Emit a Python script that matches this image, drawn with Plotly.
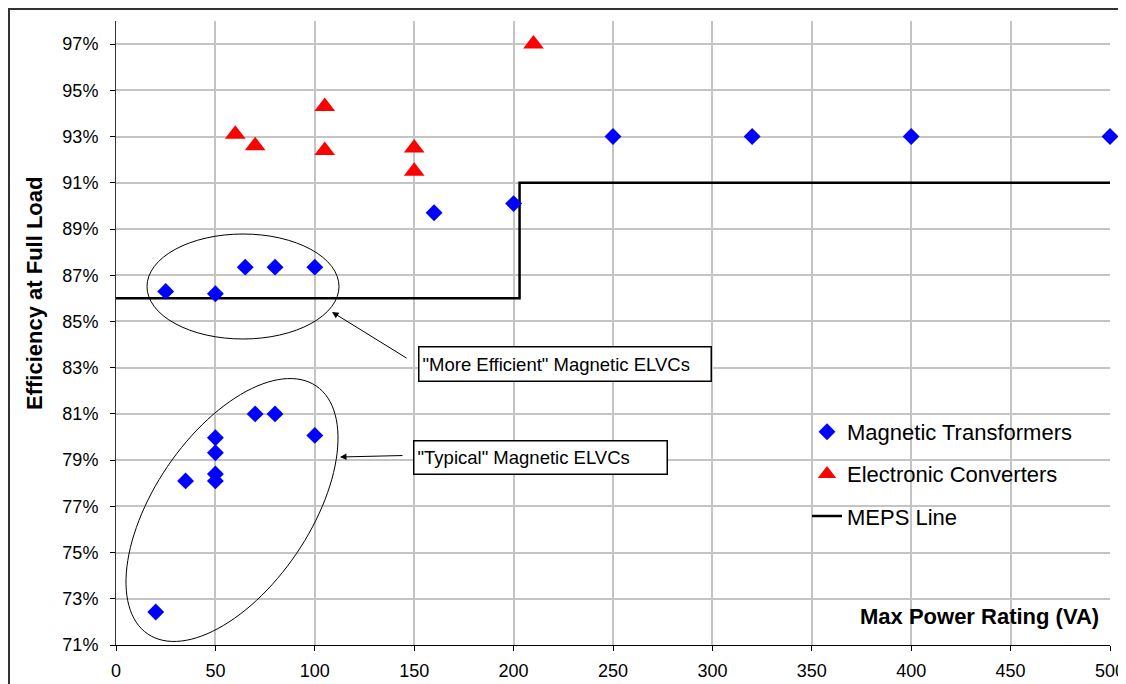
import numpy as np
import plotly.graph_objects as go

# ---------------- data ----------------
mag_x = [25, 50, 65, 80, 100, 160, 200, 250, 320, 400, 500,
         20, 35, 50, 50, 50, 50, 70, 80, 100]
mag_y = [0.863, 0.862, 0.8735, 0.8735, 0.8735, 0.897, 0.901, 0.930, 0.930, 0.930, 0.930,
         0.7243, 0.781, 0.7997, 0.7932, 0.784, 0.781, 0.810, 0.810, 0.8007]

elec_x = [60, 70, 105, 105, 150, 150, 210]
elec_y = [0.931, 0.926, 0.943, 0.924, 0.925, 0.915, 0.970]

meps_x = [0, 203, 203, 500]
meps_y = [0.86, 0.86, 0.91, 0.91]

y_ticks = [0.71, 0.73, 0.75, 0.77, 0.79, 0.81, 0.83, 0.85, 0.87, 0.89, 0.91, 0.93, 0.95, 0.97]
x_ticks = [0, 50, 100, 150, 200, 250, 300, 350, 400, 450, 500]

# ---------------- layout geometry ----------------
OFF = 8  # page body margin
W, H = 1126 - OFF, 684 - OFF
ML, MT = 116 - OFF, 21 - OFF
PW, PH = 1110 - 116, 645 - 21
MR = W - ML - PW
MB = H - MT - PH
XR = [0, 500]
YR = [0.71, 0.98]
SX = PW / (XR[1] - XR[0])   # px per x unit
SY = PH / (YR[1] - YR[0])   # px per y unit

# conversions from screenshot pixel positions
def px2x(px):
    return XR[0] + (px - OFF - ML) / SX

def px2y(py):
    return YR[0] + (MT + PH - (py - OFF)) / SY

def px2paperx(px):
    return (px - OFF - ML) / PW

def px2papery(py):
    return (MT + PH - (py - OFF)) / PH

FONT = "Liberation Sans, Arial, sans-serif"

fig = go.Figure()

fig.add_trace(go.Scatter(
    x=meps_x, y=meps_y, mode="lines", name="MEPS Line",
    line=dict(color="black", width=2.5), legendrank=3, legendgroup="c"))
fig.add_trace(go.Scatter(
    x=mag_x, y=mag_y, mode="markers", name="Magnetic Transformers",
    marker=dict(symbol="diamond", size=13, color="#0000ff", line=dict(width=0)),
    legendrank=1, legendgroup="a", cliponaxis=False))
fig.add_trace(go.Scatter(
    x=elec_x, y=elec_y, mode="markers", name="Electronic Converters",
    marker=dict(symbol="triangle-up", size=18, color="#ff0000", line=dict(width=0)),
    legendrank=2, legendgroup="b", cliponaxis=False))

shapes = []
# outer chart border
shapes.append(dict(type="rect", xref="paper", yref="paper",
                   x0=px2paperx(9), x1=px2paperx(1140), y0=px2papery(700), y1=px2papery(9),
                   line=dict(color="#333333", width=2), fillcolor="rgba(0,0,0,0)", layer="above"))
# legend background covering gridlines
shapes.append(dict(type="rect", xref="paper", yref="paper",
                   x0=px2paperx(787), x1=px2paperx(1092), y0=px2papery(537), y1=px2papery(410),
                   line=dict(width=0), fillcolor="white", layer="between"))
# "More Efficient" ellipse (axis aligned)
shapes.append(dict(type="circle", xref="x", yref="y",
                   x0=px2x(147), x1=px2x(339), y0=px2y(339), y1=px2y(234),
                   line=dict(color="black", width=1), layer="above"))
# "Typical" ellipse (rotated)
cx, cy = px2x(232), px2y(510)
a, b, th = 149.9, 77.8, np.deg2rad(55.8)
t = np.linspace(0, 2 * np.pi, 121)
ex = cx + (a * np.cos(t) * np.cos(th) - b * np.sin(t) * np.sin(th)) / SX
ey = cy + (a * np.cos(t) * np.sin(th) + b * np.sin(t) * np.cos(th)) / SY
path = "M " + " L ".join(f"{xx:.4f},{yy:.5f}" for xx, yy in zip(ex, ey)) + " Z"
shapes.append(dict(type="path", xref="x", yref="y", path=path,
                   line=dict(color="black", width=1), layer="above"))

annotations = []
# text boxes
annotations.append(dict(
    x=px2x(418.3), y=px2y(363.7), xref="x", yref="y", xanchor="left", yanchor="middle",
    text='"More Efficient" Magnetic ELVCs', showarrow=False, align="left",
    font=dict(family=FONT, size=18.5, color="black"),
    bgcolor="white", bordercolor="black", borderwidth=1.5, borderpad=3,
    width=285, height=27))
annotations.append(dict(
    x=px2x(412.7), y=px2y(457), xref="x", yref="y", xanchor="left", yanchor="middle",
    text='"Typical" Magnetic ELVCs', showarrow=False, align="left",
    font=dict(family=FONT, size=18.5, color="black"),
    bgcolor="white", bordercolor="black", borderwidth=1.5, borderpad=3,
    width=246, height=26))
# arrows
annotations.append(dict(
    x=px2x(332), y=px2y(312), ax=px2x(408), ay=px2y(359), xref="x", yref="y",
    axref="x", ayref="y", text="", showarrow=True, arrowhead=2, arrowsize=1.3,
    arrowwidth=1, arrowcolor="black", standoff=0, startstandoff=0))
annotations.append(dict(
    x=px2x(340), y=px2y(457), ax=px2x(404), ay=px2y(455.5), xref="x", yref="y",
    axref="x", ayref="y", text="", showarrow=True, arrowhead=2, arrowsize=1.3,
    arrowwidth=1, arrowcolor="black", standoff=0, startstandoff=0))
# axis titles
annotations.append(dict(
    x=px2paperx(1101), y=px2papery(616.7), xref="paper", yref="paper",
    xanchor="right", yanchor="middle", showarrow=False,
    text="<b>Max Power Rating (VA)</b>", font=dict(family=FONT, size=22, color="black")))
annotations.append(dict(
    x=px2paperx(34), y=px2papery(294), xref="paper", yref="paper",
    xanchor="center", yanchor="middle", showarrow=False, textangle=-90,
    text="<b>Efficiency at Full Load</b>", font=dict(family=FONT, size=22, color="black")))

fig.update_layout(
    width=W, height=H,
    margin=dict(l=ML, r=MR, t=MT, b=MB, autoexpand=False),
    paper_bgcolor="white", plot_bgcolor="white",
    font=dict(family=FONT, size=18, color="black"),
    showlegend=True,
    legend=dict(x=px2paperx(807), y=px2papery(411), xanchor="left", yanchor="top",
                bgcolor="rgba(0,0,0,0)", borderwidth=0,
                font=dict(family=FONT, size=22, color="black"),
                tracegroupgap=10.5, itemsizing="trace"),
    shapes=shapes, annotations=annotations,
)
fig.update_xaxes(range=XR, tickvals=x_ticks, showgrid=True, gridcolor="#c4c4c4", gridwidth=1.5,
                 showline=True, linecolor="black", linewidth=1, ticks="outside", ticklen=5,
                 tickcolor="black", zeroline=False, ticklabelstandoff=4,
                 tickfont=dict(family=FONT, size=18, color="black"))
fig.update_yaxes(range=YR, tickvals=y_ticks, tickformat=".0%", showgrid=True, gridcolor="#c4c4c4",
                 gridwidth=1.5, showline=True, linecolor="#333333", linewidth=1, ticks="outside",
                 ticklen=5, tickcolor="black", zeroline=False, ticklabelstandoff=8,
                 tickfont=dict(family=FONT, size=18, color="black"))

fig.write_html("out.html")
